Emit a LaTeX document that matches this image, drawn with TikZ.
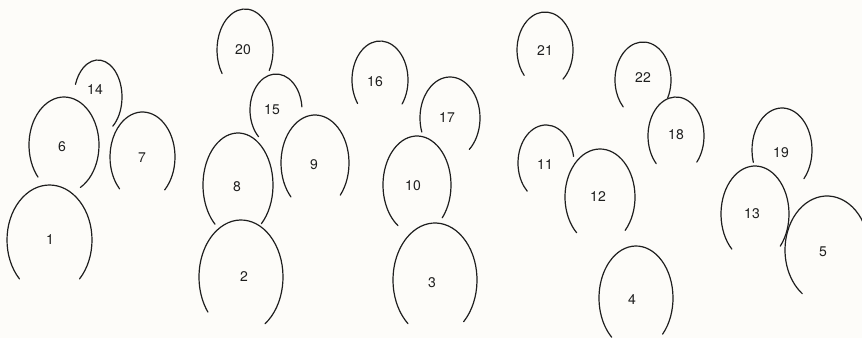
\documentclass[tikz,border=0pt]{standalone}
\usepackage{fontspec}
\setmainfont{TeX Gyre Heros}
\definecolor{paper}{HTML}{FDFCF9}
\definecolor{ink}{HTML}{1E1E1E}
\tikzset{
  ring/.style={draw=ink, line width=1.2pt, line cap=round},
  numtag/.style={font=\fontsize{14}{16}\selectfont, text=ink, inner sep=0pt}
}
\begin{document}
\begin{tikzpicture}[x=1pt, y=-1pt]
    % Page
    \fill[paper] (0,0) rectangle (862,338);
    \useasboundingbox (0,0) rectangle (862,338);
    \clip (0,0) rectangle (862,338);

    % Horseshoes: number / centre / radii / end angles / number position
    \foreach \n/\cx/\cy/\rx/\ry/\a/\b/\lx/\ly in {
        1/49.5/240/42.5/55/-45/225/50/240,
        6/64/145/35/48/-62/222/62/147,
        14/98/97/24/37/-52/160/95/90,
        7/142.5/157/32.5/45/-47/225/142/158,
        20/245/50/28/41/-30/215/243/50,
        15/276/110/26/36/5/228/272/110,
        8/238/185/35/52/-48/229/237/187,
        2/241/277/42/57/-55/218/244/277,
        9/315/163/34/48/-42/225/314/165,
        16/380/80/28/39/-38/217/375/82,
        17/450/118/30/41/-50/200/447/118,
        10/417/185/34/49/-42/236/413/186,
        3/435/280/42/57/-47/230/432/283,
        21/545/50/28/38/-50/222/545/51,
        22/643/80/28/38/-28/225/643/78,
        18/676/136/28/39/-42/225/676/135,
        11/546/163/28/38/10/228/545/165,
        12/600/197/35/48/-44/228/598/197,
        4/636/298/37/52/-44/229/632/300,
        19/782/150/30/42/-43/197/781/153,
        13/755/214/34/48/-42/227/752/214,
        5/827/250/42/54/-20/234/823/252}{
        \draw[ring] ([shift={(\a:\rx pt and \ry pt)}]\cx,\cy)
            arc[start angle=\a, end angle=\b, x radius=\rx pt, y radius=\ry pt];
        \node[numtag] (h\n) at (\lx,\ly) {\n};
    }
\end{tikzpicture}
\end{document}
